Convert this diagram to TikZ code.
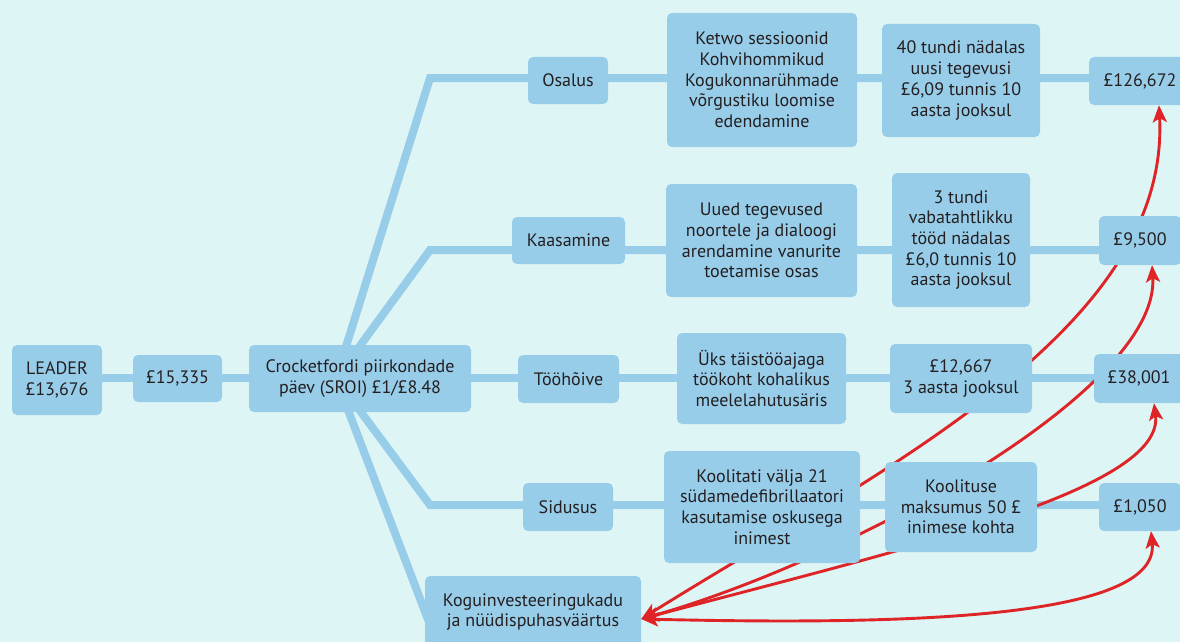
\documentclass[tikz,border=0pt]{standalone}
\usepackage{fontspec}
\setmainfont{PT Sans}
\usetikzlibrary{arrows.meta}
\definecolor{bgc}{RGB}{222,245,245}
\definecolor{boxb}{RGB}{152,205,234}
\definecolor{txt}{RGB}{35,31,32}
\definecolor{arr}{RGB}{222,36,38}
\pgfdeclarelayer{bgl}
\pgfdeclarelayer{back}
\pgfsetlayers{bgl,back,main}
\begin{document}
\begin{tikzpicture}[x=1pt,y=-1pt,
  box/.style={fill=boxb, rounded corners=5pt, inner sep=0pt, align=center, text=txt,
    font=\fontsize{18}{20.7}\selectfont},
  link/.style={draw=boxb, line width=8pt, line join=miter},
  redarr/.style={draw=arr, line width=2.9pt, >={Stealth[length=17pt,width=14pt,inset=4pt]}, <->}
]
\useasboundingbox (0,0) rectangle (1180,642);
\clip (0,0) rectangle (1180,642);
\begin{pgfonlayer}{bgl}
\fill[bgc] (0,0) rectangle (1180,642);
\end{pgfonlayer}

% column 0-2
\node[box, minimum width=90pt, minimum height=70pt] (leader) at (57,380) {LEADER\\£13,676};
\node[box, minimum width=89pt, minimum height=47pt] (n15) at (177.5,378.5) {£15,335};
\node[box, minimum width=222pt, minimum height=67pt] (crock) at (360,378.5) {Crocketfordi piirkondade\\päev (SROI) £1/£8.48};
% column 3
\node[box, minimum width=80pt, minimum height=47pt] (osalus) at (568,80.5) {Osalus};
\node[box, minimum width=113pt, minimum height=47pt] (kaas) at (568.5,240.5) {Kaasamine};
\node[box, minimum width=101pt, minimum height=48pt] (tooh) at (568.5,379) {Tööhõive};
\node[box, minimum width=90pt, minimum height=48pt] (sidus) at (568,507) {Sidusus};
\node[box, minimum width=216pt, minimum height=72pt] (kogu) at (533,612) {Koguinvesteeringukadu\\ja nüüdispuhasväärtus};
% column 4
\node[box, minimum width=190pt, minimum height=134pt] (ketwo) at (762,80) {Ketwo sessioonid\\Kohvihommikud\\Kogukonnarühmade\\võrgustiku loomise\\edendamine};
\node[box, minimum width=191pt, minimum height=113pt] (uued) at (761.5,240.5) {Uued tegevused\\noortele ja dialoogi\\arendamine vanurite\\toetamise osas};
\node[box, minimum width=169pt, minimum height=91pt] (uks) at (761.5,378.5) {Üks täistööajaga\\töökoht kohalikus\\meelelahutusäris};
\node[box, minimum width=196pt, minimum height=112pt] (koolit) at (762,507) {Koolitati välja 21\\südamedefibrillaatori\\kasutamise oskusega\\inimest};
% column 5
\node[box, minimum width=158pt, minimum height=113pt] (t40) at (961,80.5) {40 tundi nädalas\\uusi tegevusi\\£6,09 tunnis 10\\aasta jooksul};
\node[box, minimum width=138pt, minimum height=134pt] (t3) at (961,240) {3 tundi\\vabatahtlikku\\tööd nädalas\\£6,0 tunnis 10\\aasta jooksul};
\node[box, minimum width=142pt, minimum height=69pt] (n12) at (961,378.5) {£12,667\\3 aasta jooksul};
\node[box, minimum width=152pt, minimum height=90pt] (koolt) at (961,507) {Koolituse\\maksumus 50 £\\inimese kohta};
% column 6
\node[box, minimum width=102pt, minimum height=48pt] (v1) at (1140,81) {£126,672};
\node[box, minimum width=82pt, minimum height=49pt] (v2) at (1140,240.5) {£9,500};
\node[box, minimum width=90pt, minimum height=49pt] (v3) at (1139,378.5) {£38,001};
\node[box, minimum width=82pt, minimum height=48pt] (v4) at (1140,507) {£1,050};

\begin{pgfonlayer}{back}
\coordinate (F) at ([xshift=-24pt]crock.center);
\coordinate (r1) at (430,78);
\coordinate (r2) at (430,250);
\coordinate (r3) at (57,378);
\coordinate (r4) at (430,505);
\coordinate (r5) at (432,630);
\draw[link] (F) -- (r1) -- (r1 -| v1.center);
\draw[link] (F) -- (r2) -- (r2 -| v2.center);
\draw[link] (r3) -- (r3 -| v3.center);
\draw[link] (F) -- (r4) -- (r4 -| v4.center);
\draw[link] (F) -- (r5);
% red arrows
\draw[redarr] ([yshift=-7pt]kogu.east) .. controls (880,470) and (1170,330) .. ([xshift=19pt]v1.south);
\draw[redarr] ([yshift=-7pt]kogu.east) .. controls (850,560) and (1160,390) .. ([xshift=12pt]v2.south);
\draw[redarr] ([yshift=-7pt]kogu.east) .. controls (900,550) and (1165,490) .. ([xshift=15pt]v3.south);
\draw[redarr] ([yshift=-7pt]kogu.east) .. controls (900,625) and (1160,620) .. ([xshift=11pt]v4.south);
\end{pgfonlayer}
\end{tikzpicture}
\end{document}
